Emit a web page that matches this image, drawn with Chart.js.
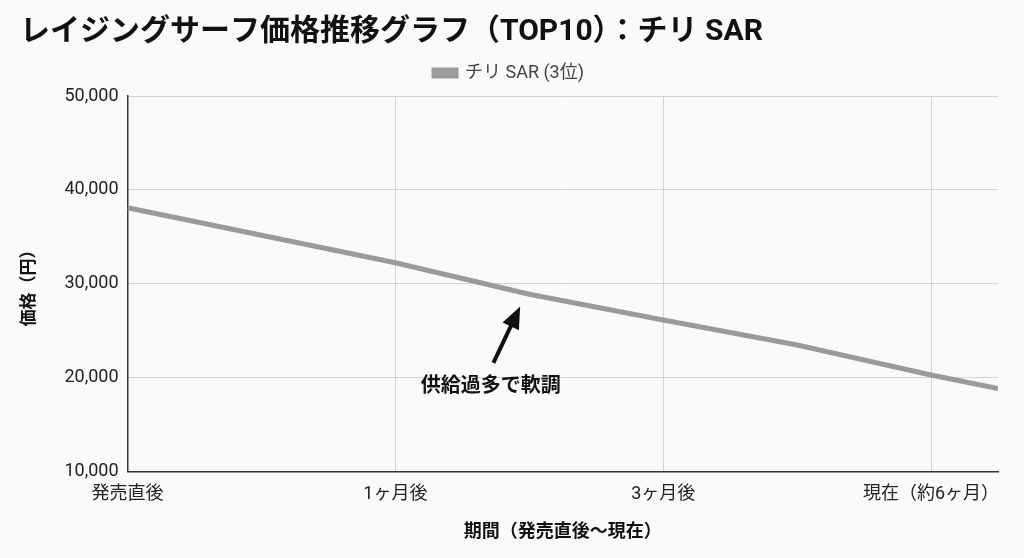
<!DOCTYPE html>
<html lang="ja">
<head>
<meta charset="utf-8">
<title>レイジングサーフ価格推移グラフ</title>
<script src="https://cdn.jsdelivr.net/npm/chart.js@4.4.1/dist/chart.umd.min.js"></script>
<style>
  html, body { margin: 0; padding: 0; background: #fafaf8; }
  #wrap { width: 1024px; height: 558px; }
</style>
</head>
<body>
<div id="wrap"><canvas id="priceChart" width="1024" height="558"></canvas></div>
<script>
// period ticks (position on x scale -> label)
const periodTicks = [0, 1, 2, 3];
const periodLabels = ['発売直後', '1ヶ月後', '3ヶ月後', '現在（約6ヶ月）'];

// price points
const pointX = [0, 1, 1.5, 2, 2.5, 3, 3.25];
const priceSAR = [38100, 32250, 28900, 26150, 23500, 20300, 18850];

const priceTicks = [10000, 20000, 30000, 40000, 50000];

const FONT = 'Roboto, "Noto Sans CJK JP", sans-serif';

// arrow + note drawn in data coords
const noteText = '供給過多で軟調';
const notePos = { x: 1.356, y: 19000 };
const arrowFrom = { x: 1.366, y: 21600 };
const arrowTo = { x: 1.466, y: 27600 };

const noteArrow = {
  id: 'noteArrow',
  afterDatasetsDraw(chart) {
    const { ctx, scales: { x, y } } = chart;
    const x1 = x.getPixelForValue(arrowFrom.x), y1 = y.getPixelForValue(arrowFrom.y);
    const x2 = x.getPixelForValue(arrowTo.x), y2 = y.getPixelForValue(arrowTo.y);
    const ang = Math.atan2(y2 - y1, x2 - x1);
    const headLen = 22, headW = 9;
    ctx.save();
    ctx.strokeStyle = '#111';
    ctx.fillStyle = '#111';
    ctx.lineWidth = 4;
    ctx.beginPath();
    ctx.moveTo(x1, y1);
    ctx.lineTo(x2 - Math.cos(ang) * headLen * 0.8, y2 - Math.sin(ang) * headLen * 0.8);
    ctx.stroke();
    ctx.beginPath();
    ctx.moveTo(x2, y2);
    ctx.lineTo(x2 - Math.cos(ang) * headLen + Math.sin(ang) * headW, y2 - Math.sin(ang) * headLen - Math.cos(ang) * headW);
    ctx.lineTo(x2 - Math.cos(ang) * headLen - Math.sin(ang) * headW, y2 - Math.sin(ang) * headLen + Math.cos(ang) * headW);
    ctx.closePath();
    ctx.fill();
    ctx.font = 'bold 20px ' + FONT;
    ctx.textAlign = 'center';
    ctx.textBaseline = 'middle';
    ctx.fillText(noteText, x.getPixelForValue(notePos.x), y.getPixelForValue(notePos.y));
    ctx.restore();
  }
};

// a bit more room under the legend
const legendGap = {
  id: 'legendGap',
  beforeInit(chart) {
    const fit = chart.legend.fit;
    chart.legend.fit = function () {
      fit.bind(chart.legend)();
      this.height += 4;
    };
  }
};

const ctx = document.getElementById('priceChart').getContext('2d');
new Chart(ctx, {
  type: 'line',
  data: {
    datasets: [{
      label: 'チリ SAR (3位)',
      data: pointX.map((v, i) => ({ x: v, y: priceSAR[i] })),
      borderColor: '#9a9a9a',
      backgroundColor: '#a3a3a3',
      borderWidth: 5,
      pointRadius: 0,
      tension: 0
    }]
  },
  options: {
    responsive: false,
    animation: false,
    layout: { padding: { left: 20, right: 26, top: 14, bottom: 15 } },
    plugins: {
      title: {
        display: true,
        text: 'レイジングサーフ価格推移グラフ（TOP10）：チリ SAR',
        align: 'start',
        color: '#111',
        font: { family: FONT, size: 30, weight: 'bold' },
        padding: { top: 0, bottom: 4 }
      },
      legend: {
        display: true,
        labels: {
          color: '#444',
          font: { family: FONT, size: 18 },
          boxWidth: 22,
          boxHeight: 6,
          padding: 10
        }
      },
      tooltip: { enabled: false }
    },
    scales: {
      x: {
        type: 'linear',
        min: 0,
        max: 3.25,
        afterBuildTicks(axis) {
          axis.ticks = periodTicks.map(v => ({ value: v }));
        },
        ticks: {
          color: '#222',
          font: { family: FONT, size: 18 },
          maxRotation: 0,
          padding: 12,
          callback: (v) => periodLabels[periodTicks.indexOf(v)]
        },
        grid: { color: '#d4d4d4', lineWidth: 1, drawTicks: false },
        border: { color: '#333', width: 1.5 },
        title: {
          display: true,
          text: '期間（発売直後〜現在）',
          color: '#111',
          font: { family: FONT, size: 18, weight: 'bold' },
          padding: { top: 4, bottom: 0 }
        }
      },
      y: {
        min: 10000,
        max: 50000,
        afterBuildTicks(axis) {
          axis.ticks = priceTicks.map(v => ({ value: v }));
        },
        ticks: {
          color: '#222',
          font: { family: FONT, size: 18 },
          padding: 9,
          callback: (v) => v.toLocaleString('en-US')
        },
        grid: { color: '#d4d4d4', lineWidth: 1, drawTicks: false },
        border: { color: '#333', width: 1.5 },
        title: {
          display: true,
          text: '価格（円）',
          color: '#111',
          font: { family: FONT, size: 17, weight: 'bold' },
          padding: { top: 0, bottom: 15 }
        }
      }
    }
  },
  plugins: [noteArrow, legendGap]
});
</script>
</body>
</html>
